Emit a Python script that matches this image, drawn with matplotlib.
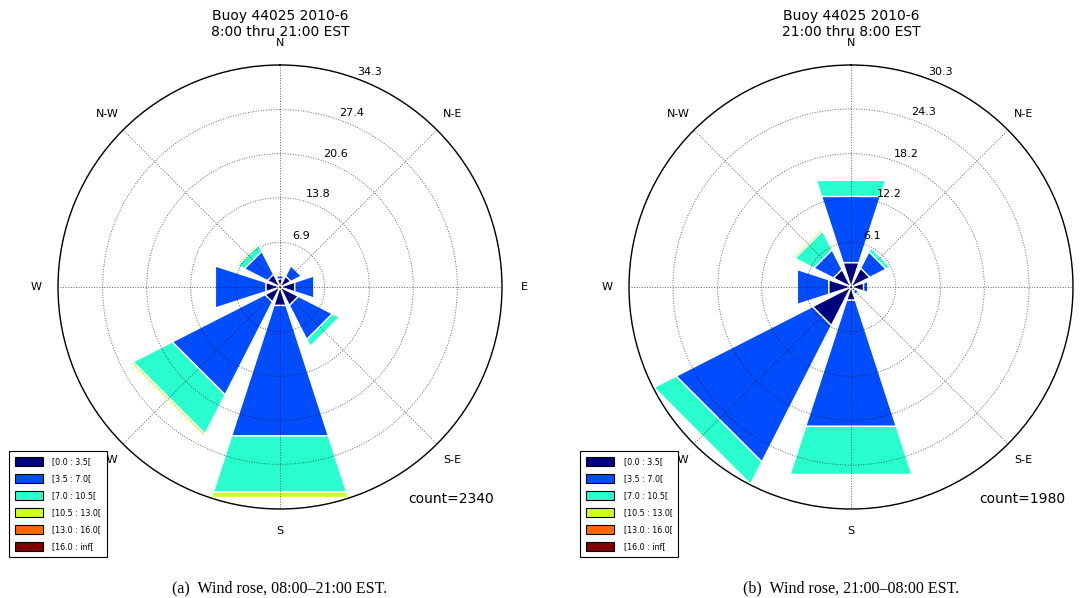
import numpy as np
import matplotlib
matplotlib.use('Agg')
import matplotlib.pyplot as plt
from matplotlib.patches import Rectangle, Patch
from matplotlib.transforms import offset_copy

dir_angles = [0, 45, 90, 135, 180, 225, 270, 315]
compass_labels = ['N', 'N-E', 'E', 'S-E', 'S', 'S-W', 'W', 'N-W']
speed_bins = ['[0.0 : 3.5[', '[3.5 : 7.0[', '[7.0 : 10.5[',
              '[10.5 : 13.0[', '[13.0 : 16.0[', '[16.0 : inf[']

# frequency (%) per direction (N, NE, E, SE, S, SW, W, NW), 8:00 - 21:00
day_0_35 = [1.3, 1.9, 2.4, 3.2, 3.0, 2.6, 2.3, 2.2]
day_35_70 = [0.5, 1.8, 3.1, 5.9, 21.2, 16.1, 8.2, 4.0]
day_70_105 = [0.0, 0.0, 0.0, 1.2, 9.1, 6.8, 0.0, 1.1]
day_105_130 = [0.0, 0.0, 0.0, 0.0, 0.9, 0.4, 0.0, 0.3]
day_130_160 = [0.0, 0.0, 0.0, 0.0, 0.0, 0.0, 0.0, 0.0]
day_160_inf = [0.0, 0.0, 0.0, 0.0, 0.0, 0.0, 0.0, 0.0]
day_rgrid = [6.9, 13.8, 20.6, 27.4, 34.3]
day_count = 2340

# 21:00 - 8:00
night_0_35 = [3.5, 2.9, 1.8, 0.7, 1.9, 5.9, 3.2, 2.7]
night_35_70 = [9.5, 2.5, 0.6, 0.5, 18.1, 20.9, 4.5, 3.0]
night_70_105 = [2.3, 0.6, 0.2, 0.3, 6.9, 3.4, 0.0, 2.9]
night_105_130 = [0.0, 0.0, 0.0, 0.0, 0.0, 0.0, 0.0, 0.3]
night_130_160 = [0.0, 0.0, 0.0, 0.0, 0.0, 0.0, 0.0, 0.0]
night_160_inf = [0.0, 0.0, 0.0, 0.0, 0.0, 0.0, 0.0, 0.0]
night_rgrid = [6.1, 12.2, 18.2, 24.3, 30.3]
night_count = 1980

colors = plt.cm.jet(np.linspace(0, 1, len(speed_bins)))

W, H = 1090, 598
fig = plt.figure(figsize=(W / 100, H / 100), dpi=100)


def draw_rose(cx, freqs, rgrid, title, count, caption):
    ax = fig.add_axes([(cx - 222) / W, (H - 287 - 222) / H, 444 / W, 444 / H],
                      projection='polar')
    ax.set_theta_zero_location('N')
    ax.set_theta_direction(-1)
    width = np.radians(45) * 0.8
    offset = np.zeros(len(dir_angles))
    for vals, c in zip(freqs, colors):
        for i, (a, v) in enumerate(zip(dir_angles, vals)):
            if v > 0:
                ax.add_patch(Rectangle((np.radians(a) - width / 2, offset[i]), width, v,
                                       facecolor=c, edgecolor='white', lw=1.0, zorder=1))
        offset += np.array(vals)
    rmax = rgrid[-1]
    ax.set_ylim(0, rmax)
    ax.set_xticks(np.radians(dir_angles))
    ax.set_xticklabels([])
    ax.set_yticks(rgrid)
    ax.set_yticklabels([])
    ax.tick_params(length=0)
    ax.set_axisbelow(False)
    ax.grid(True, color='k', ls=':', lw=0.7, alpha=0.6)
    ax.spines['polar'].set_linewidth(1.0)

    for a, lab in zip(dir_angles, compass_labels):
        ax.text(np.radians(a), rmax * 1.1, lab, ha='center', va='center',
                fontsize=8, clip_on=False)
    tr = offset_copy(ax.transData, fig=fig, x=4.2, y=10.2, units='dots')
    for r in rgrid:
        ax.text(np.radians(22.5), r, '%.1f' % r, transform=tr, ha='center',
                va='center', fontsize=8, clip_on=False)

    fig.text(cx / W, 1 - 9 / H, title, ha='center', va='top', fontsize=10)
    fig.text((cx + 171) / W, 1 - 499 / H, 'count=%d' % count, ha='center',
             va='center', fontsize=10)
    fig.text(cx / W, 1 - 588 / H, caption, ha='center', va='center',
             family='Liberation Serif', fontsize=11.5)

    handles = [Patch(facecolor=c, edgecolor='k', lw=0.8, label=l)
               for c, l in zip(colors, speed_bins)]
    leg = fig.legend(handles=handles, loc='lower left',
                     bbox_to_anchor=((cx - 271) / W, 41 / H),
                     bbox_transform=fig.transFigure, fontsize=5.8,
                     handlelength=3.5, handleheight=1.25, labelspacing=1.0,
                     handletextpad=1.2, borderpad=0.7, borderaxespad=0,
                     fancybox=False, framealpha=1, edgecolor='k')
    leg.get_frame().set_linewidth(0.8)
    return ax


draw_rose(280, [day_0_35, day_35_70, day_70_105, day_105_130, day_130_160, day_160_inf],
          day_rgrid, 'Buoy 44025 2010-6\n8:00 thru 21:00 EST', day_count,
          '(a)  Wind rose, 08:00\u201321:00 EST.')
draw_rose(851, [night_0_35, night_35_70, night_70_105, night_105_130, night_130_160,
                night_160_inf],
          night_rgrid, 'Buoy 44025 2010-6\n21:00 thru 8:00 EST', night_count,
          '(b)  Wind rose, 21:00\u201308:00 EST.')

fig.savefig('out.png', dpi=100)
